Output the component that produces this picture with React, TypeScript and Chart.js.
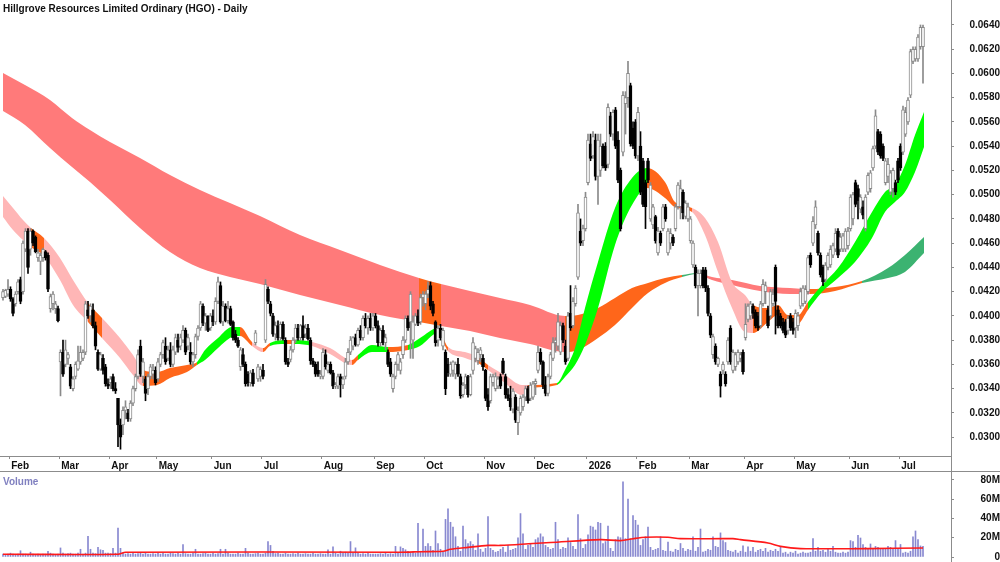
import React, { useEffect, useRef } from 'react';
import { Chart, registerables } from 'chart.js';

Chart.register(...registerables);

// ---------------- data (prices in tenths of a cent, i.e. 0.001 AUD; volume in millions) ----------------
const TITLE = 'Hillgrove Resources Limited Ordinary (HGO) - Daily';

const leadingDays = 3; // trading days of late January 2025 before the first label
const monthLabels = ['Feb', 'Mar', 'Apr', 'May', 'Jun', 'Jul', 'Aug', 'Sep', 'Oct', 'Nov', 'Dec', '2026', 'Feb', 'Mar', 'Apr', 'May', 'Jun', 'Jul'];
const monthDays = [20, 20, 19, 22, 20, 24, 21, 20, 24, 20, 21, 20, 21, 22, 20, 22, 20, 10];

const priceTicks = [30, 32, 34, 36, 38, 40, 42, 44, 46, 48, 50, 52, 54, 56, 58, 60, 62, 64];
const volumeTicks = [0, 20, 40, 60, 80];

// [open, high, low, close]
const priceBars: number[][] = [
  [41.5,42.2,41.3,42.0],[41.6,42.2,41.5,42.1],[41.8,43.0,41.6,42.2],[42.2,42.4,41.2,41.4],[41.4,41.5,40.0,40.2],[41.0,42.0,40.8,41.8],[42.0,43.0,41.8,42.8],[43.0,43.2,41.0,41.2],[42.0,46.2,41.8,46.0],[45.5,47.2,45.3,47.0],
  [47.0,47.2,43.5,44.0],[45.5,47.2,45.0,47.0],[47.0,47.1,45.8,46.0],[46.5,46.6,45.2,45.3],[44.8,45.5,44.5,45.2],[44.5,45.2,43.4,45.0],[44.8,45.6,44.5,45.5],[45.3,45.4,44.6,44.8],[45.0,45.2,42.0,42.2],[40.6,41.8,40.3,41.6],
  [41.0,42.0,40.5,41.8],[40.6,41.2,40.2,41.0],[40.6,40.8,39.5,39.6],[36.2,37.2,33.4,37.0],[37.0,38.0,35.0,35.2],[36.0,38.0,35.8,37.2],[36.5,37.0,36.0,36.8],[35.8,36.0,34.0,34.2],[34.0,35.0,33.8,34.8],[35.0,36.2,34.8,36.0],
  [35.6,37.5,35.5,36.3],[36.2,37.5,36.0,37.0],[36.5,37.2,36.3,37.0],[37.0,41.2,36.8,41.0],[40.5,41.2,39.8,40.0],[40.0,41.0,39.5,40.8],[40.5,41.0,39.0,39.2],[39.2,39.5,37.2,37.5],[37.0,37.2,35.5,35.6],[35.6,37.0,35.5,36.8],
  [36.5,36.8,35.2,35.5],[35.8,36.0,34.2,34.4],[34.4,34.8,34.0,34.2],[34.5,35.0,34.0,34.8],[35.0,35.2,33.8,34.0],[34.0,34.5,33.6,33.8],[33.2,33.2,29.2,31.0],[31.0,31.5,29.0,30.0],[31.0,32.5,30.2,32.2],[32.2,33.0,31.5,32.5],
  [32.0,32.3,31.3,31.5],[31.5,33.0,31.3,32.8],[32.8,34.2,32.6,34.0],[34.0,35.2,33.8,35.0],[35.0,37.2,34.8,36.8],[37.5,38.0,35.0,35.2],[35.0,36.5,34.5,36.2],[34.8,35.0,33.0,33.6],[34.0,35.2,33.5,35.0],[35.0,36.0,34.8,35.8],
  [35.2,36.0,34.8,35.5],[35.5,35.8,34.3,34.5],[34.8,36.5,34.6,36.2],[36.0,37.0,35.8,36.8],[36.8,38.0,36.5,37.8],[37.5,38.2,36.0,36.2],[36.5,37.5,36.3,37.2],[37.2,37.8,35.8,36.0],[36.0,37.5,35.8,37.2],[37.0,38.5,36.8,38.2],
  [38.0,38.5,37.0,37.4],[37.5,38.5,37.2,38.2],[38.0,39.2,37.8,38.8],[38.8,39.0,36.8,37.0],[37.5,38.5,37.2,38.2],[37.0,37.8,36.0,36.2],[36.2,37.0,35.8,36.8],[36.8,38.5,36.5,38.3],[38.3,39.2,38.0,39.0],[39.0,41.2,38.8,41.0],
  [40.8,41.0,39.2,39.4],[39.4,40.2,38.8,40.0],[40.0,40.0,38.7,38.8],[39.0,40.2,38.8,40.0],[40.0,40.5,39.2,39.5],[39.5,41.5,39.3,41.2],[41.2,43.2,41.0,42.8],[42.5,42.8,39.4,39.5],[39.5,41.2,39.2,40.8],[40.8,41.0,39.5,39.6],
  [39.6,41.2,39.4,40.6],[40.6,40.8,39.2,39.3],[39.5,39.6,38.0,38.2],[38.5,38.8,37.8,38.0],[38.0,38.2,37.4,37.5],[35.8,37.4,35.5,37.2],[36.8,37.3,35.8,36.0],[36.0,36.2,34.2,34.4],[35.2,35.4,34.2,34.5],[34.5,35.5,34.2,35.3],
  [35.3,35.6,34.2,34.4],[37.8,38.8,37.6,38.6],[34.8,36.0,34.6,35.8],[35.0,35.8,34.6,35.6],[35.5,36.0,34.8,35.0],[38.0,43.0,37.8,42.6],[42.2,42.4,41.0,41.2],[41.0,41.2,40.0,40.2],[40.0,40.2,38.3,38.5],[38.5,39.5,38.0,39.2],
  [39.2,39.6,38.0,38.2],[38.2,39.5,38.0,39.3],[39.3,39.5,38.0,38.1],[38.0,38.2,36.0,36.2],[36.2,36.5,35.8,36.0],[36.4,37.5,36.2,37.2],[37.2,38.2,37.0,38.0],[38.0,39.3,37.8,39.0],[39.0,39.3,38.0,38.2],[38.2,39.3,38.0,39.2],
  [39.2,40.0,38.0,38.2],[38.5,39.3,38.2,39.0],[39.0,39.3,38.0,38.1],[38.0,38.2,36.0,36.3],[36.3,36.5,35.8,36.0],[36.0,36.2,35.0,35.2],[35.5,36.2,35.0,35.2],[35.0,35.5,34.8,35.2],[35.0,37.3,34.8,37.0],[36.8,37.2,35.6,35.8],
  [35.5,36.2,35.3,36.0],[36.0,36.2,35.2,35.3],[35.3,35.5,34.0,34.2],[34.2,34.5,34.0,34.3],[34.2,35.2,34.0,35.0],[35.0,35.2,33.3,34.3],[34.3,35.0,34.0,34.8],[35.0,36.5,34.8,36.2],[36.2,37.3,36.0,37.0],[37.0,38.3,36.8,38.0],
  [37.5,38.3,37.2,38.2],[38.2,38.5,37.5,37.6],[37.6,39.0,37.5,38.8],[38.8,39.2,38.0,38.2],[38.2,40.0,38.0,39.8],[39.8,40.2,39.0,39.2],[39.0,40.0,38.5,39.8],[39.8,40.2,38.8,39.0],[39.0,40.2,38.8,40.0],[40.0,40.2,39.0,39.2],
  [39.2,39.6,37.5,37.8],[37.8,39.0,37.5,38.8],[38.8,39.2,37.6,37.8],[37.8,38.5,37.2,38.2],[37.0,37.2,35.8,36.0],[36.2,36.5,35.0,35.2],[34.0,35.2,33.7,35.0],[35.0,36.2,34.8,36.0],[36.0,37.0,35.5,36.8],[35.5,36.5,35.2,36.2],
  [36.8,38.3,36.5,38.0],[38.0,40.0,37.8,39.8],[39.8,40.0,38.8,39.0],[39.5,42.0,36.5,41.8],[38.0,40.0,36.5,39.5],[39.3,40.2,39.2,40.0],[40.0,40.5,39.2,39.4],[39.5,41.8,39.3,41.5],[41.5,42.0,40.8,41.8],[41.0,42.0,40.5,41.8],
  [41.8,42.8,41.5,42.2],[42.5,42.8,40.5,40.8],[41.0,41.2,40.0,40.2],[39.5,39.6,37.5,37.8],[38.0,39.2,37.5,39.0],[39.0,39.3,38.0,38.2],[37.5,39.0,37.2,38.8],[37.0,37.2,33.5,34.0],[36.0,36.5,35.0,35.3],[35.2,36.2,35.0,36.0],
  [35.5,36.3,35.0,36.2],[35.2,36.2,34.8,36.0],[36.0,36.5,35.0,35.2],[35.0,35.2,33.2,33.4],[33.5,34.5,33.3,34.3],[34.3,35.2,34.0,35.0],[35.0,35.1,33.3,33.5],[33.5,35.2,33.4,35.0],[35.5,38.2,35.2,37.8],[36.5,37.5,36.2,37.3],
  [36.3,37.3,36.0,37.0],[36.8,37.4,36.2,37.2],[36.5,36.8,35.5,35.8],[35.5,35.6,33.0,33.2],[33.5,34.0,32.2,32.5],[33.0,35.2,32.8,35.0],[34.5,35.2,34.2,35.0],[34.0,35.3,33.8,35.0],[34.2,35.0,34.0,34.8],[35.0,35.2,34.0,34.2],
  [36.3,36.5,35.2,35.3],[35.0,35.2,33.2,33.5],[33.5,34.0,33.0,33.2],[33.2,34.2,32.2,32.5],[32.3,34.0,32.0,33.8],[33.3,33.5,31.2,31.4],[31.2,32.5,30.2,32.2],[32.0,33.4,31.8,33.2],[32.5,33.5,32.2,33.3],[33.3,34.2,33.0,34.0],
  [34.0,34.2,32.8,33.0],[33.2,34.5,33.0,34.3],[33.3,34.6,33.1,34.4],[34.4,34.8,33.5,34.6],[35.5,37.5,35.3,37.0],[37.0,37.3,36.0,36.2],[36.2,36.3,34.0,34.3],[34.3,35.0,33.4,33.6],[33.6,35.2,33.4,35.0],[35.0,37.0,34.8,36.8],
  [36.5,38.2,36.3,37.8],[37.8,38.2,37.0,38.0],[37.5,40.2,37.2,39.5],[37.0,39.5,36.8,39.2],[39.2,39.4,37.8,38.0],[37.5,38.0,36.0,36.2],[36.5,40.3,36.3,40.0],[40.2,42.5,38.8,39.0],[39.2,41.5,39.0,41.2],[41.0,42.5,40.8,42.3],
  [43.2,49.2,43.0,48.5],[47.0,48.0,45.8,46.0],[46.2,47.5,45.8,47.2],[47.2,50.2,47.0,49.8],[51.0,55.0,50.8,54.5],[54.2,55.0,52.8,53.0],[53.2,55.2,53.0,54.8],[54.5,55.0,51.2,51.5],[51.5,55.0,49.2,54.5],[52.0,55.0,51.5,54.0],
  [54.0,54.2,52.2,52.4],[54.0,54.3,52.0,52.2],[52.5,57.5,52.2,57.2],[56.5,56.8,54.8,55.0],[55.0,57.0,54.5,56.8],[57.0,57.2,53.8,54.0],[54.5,55.2,51.0,51.2],[52.0,52.2,47.0,47.2],[53.5,58.5,53.2,58.2],[57.5,58.5,55.0,58.0],
  [58.0,61.0,57.2,60.0],[59.0,59.2,54.0,54.2],[55.5,56.0,53.8,54.0],[56.0,56.2,53.0,53.2],[53.2,57.2,52.8,56.8],[54.0,55.2,50.0,50.2],[52.8,53.0,49.0,49.2],[51.0,51.2,47.2,49.0],[52.8,53.0,51.0,51.2],[48.0,51.0,47.8,50.8],
  [47.5,49.2,47.2,49.0],[48.2,48.3,46.0,46.2],[45.2,47.3,45.0,47.0],[46.8,47.0,45.8,46.0],[47.2,49.2,47.0,49.0],[49.0,49.2,47.8,48.0],[45.2,47.2,45.0,47.0],[46.0,47.2,45.5,46.8],[46.5,46.7,45.8,46.0],[47.2,49.2,47.0,49.0],
  [49.0,51.0,48.8,50.8],[49.0,51.2,48.0,50.5],[50.2,50.4,48.0,48.5],[48.2,49.5,48.0,49.3],[48.0,49.3,47.8,49.0],[46.2,48.2,46.0,48.0],[44.2,46.2,44.0,46.0],[44.0,44.2,42.3,42.5],[42.5,43.8,40.0,43.5],[42.5,43.8,42.3,43.5],
  [43.8,44.0,42.3,42.5],[43.8,44.0,42.0,42.3],[42.3,42.5,40.0,40.2],[40.0,40.2,38.2,38.4],[36.8,38.5,36.5,38.3],[37.5,37.7,36.0,36.2],[36.0,36.6,35.8,36.5],[35.2,35.4,33.3,34.2],[35.5,36.2,35.2,36.0],[35.2,35.4,34.2,34.4],
  [36.2,38.2,36.0,38.0],[39.0,39.2,36.0,36.2],[35.5,37.2,35.3,37.0],[35.8,37.0,35.5,36.8],[36.2,37.2,36.0,37.0],[36.5,37.0,36.2,36.8],[37.0,37.2,35.2,35.4],[38.2,41.0,38.0,39.3],[39.7,41.0,39.5,40.8],[40.0,41.2,39.7,41.0],
  [40.8,41.0,39.8,40.2],[40.3,40.5,39.0,39.2],[40.0,40.3,38.8,39.0],[39.2,41.2,39.0,41.0],[41.0,43.0,40.8,42.6],[42.0,42.8,41.0,42.5],[40.5,40.8,39.0,39.2],[40.0,42.2,39.8,42.0],[41.0,42.2,40.8,41.8],[44.0,44.2,38.5,41.2],
  [40.5,40.8,39.0,39.2],[40.0,40.2,39.0,39.2],[39.5,39.8,38.6,38.8],[39.5,39.7,38.2,38.4],[38.8,40.0,38.5,39.8],[40.0,40.2,38.8,39.0],[39.5,39.8,38.5,38.8],[39.0,40.5,38.2,40.2],[39.2,40.3,38.8,40.0],[40.8,42.3,40.6,42.0],
  [41.0,42.5,40.8,42.3],[41.2,42.5,41.0,42.2],[42.0,45.0,41.8,44.8],[45.0,45.2,44.0,44.2],[46.0,48.2,45.8,47.8],[47.5,49.5,47.2,49.0],[46.8,47.0,45.0,45.2],[45.0,45.2,43.2,43.4],[44.0,44.2,42.5,42.8],[43.0,44.4,42.8,44.2],
  [44.0,45.2,43.8,45.0],[44.2,45.8,44.0,45.5],[45.0,46.0,44.8,45.8],[45.5,47.2,45.3,46.8],[47.0,47.2,44.8,45.0],[45.5,46.8,45.3,46.5],[45.5,46.8,45.3,46.6],[45.5,47.2,45.3,47.0],[45.8,47.3,45.5,47.0],[47.2,50.0,47.0,49.8],
  [48.0,50.2,47.5,50.0],[51.0,51.2,49.0,49.2],[50.5,50.8,48.0,49.5],[48.8,50.0,48.5,49.8],[49.0,49.5,48.0,48.3],[47.2,50.0,47.0,49.8],[50.2,51.8,50.0,51.6],[50.5,52.0,50.2,51.8],[52.2,54.0,52.0,53.8],[54.0,57.0,53.8,56.5],
  [55.2,55.4,53.3,53.5],[55.0,55.2,53.0,53.2],[54.0,54.2,52.8,53.0],[51.0,53.0,50.8,52.8],[51.5,53.0,51.0,52.5],[50.2,52.0,50.0,51.8],[50.5,52.2,49.8,52.0],[51.0,51.2,50.0,50.2],[52.8,53.0,51.0,51.2],[54.0,54.2,52.0,52.2],
  [53.5,57.3,53.3,57.0],[55.0,57.2,54.8,56.8],[56.0,58.0,55.8,57.8],[58.2,62.0,58.0,61.8],[61.0,62.2,60.8,62.0],[61.2,62.2,61.0,62.0],[61.2,63.2,61.0,63.0],[62.2,64.0,62.0,63.8],[62.2,64.0,59.2,63.8],
];

// daily volume, millions of shares
const volumes = [
  3,2.5,3,4,3,2.5,3,6.5,3,3,
  2.5,5,3,2.5,3,2,3,3,6,4,
  3,2.5,3,9.4,4,3,3.5,4,3,3,
  4,8,3,4,21.5,8,4,3.5,10,7.5,
  7,4,4,3.5,9,4,30,9,4,3,
  3.5,3,4,3,3.5,4,3,4,3,3,
  3.5,3,4,3,4,3,3,4,3.5,3,
  4,3,13,3.5,3,3,4,8,3,3,
  3.5,4,3,3,4,3,3.5,8,3,8,
  4,3,3,3,4,3,3,9,4,3,
  3,3.5,4,3,3,4,16,12,6,3.5,
  4,3,3,4,3,3,3.5,3,4,3,
  3,3.5,3,3,4,3,3,3.5,3,3,
  7.5,3,10.5,4,3,6,4,5,4,16,
  4,9.5,4,3,3.5,3,4,3,3,3,
  3,3.5,3,4,3,3.5,3,11,4,10.5,
  9,7.5,6,4,5,4,35,6,29,11,
  14,11,7,27,14,8,5,39,50,36,
  31,21,11,6,32,18,14,16,13,7,
  24,8,5,9,42,9,7,5,6,8,
  10,5,12,7,8,9,20,45,24,8,
  12,14,10,18,20,24,21,12,10,8,
  9,36,18,8,10,9,20,15,11,8,
  44,19,9,13,23,32,31,28,36,35,
  14,16,32,9,6,18,21,20,78,19,
  60,19,43,38,33,12,18,21,31,10,
  7,8,9,21,7,6,15.5,6,5,8,
  7,14,9,6,8,7,21,6,10,29,
  5,6,8,7,21,11,10,25,17,15,
  7,6,5,7,4,6,11.5,5,10.5,6,
  10,5,7,8,6,9,5,7,6,8,
  6,11,4,5,3,5,4,6,3,4,
  5,4,4,5,19,6,10,6,7,5,
  8,6,11,5,4,4,5,4,5,17,
  16,10,22.5,19.7,13,10,8,13.5,9,11,
  10,8,9,8,11,10,8,17,8,13,
  4,5,4,6,21,27,18,11.5,11,
];

// volume moving average (read at bar positions)
const volMaX = [0, 46, 49, 159, 167, 176, 179, 186, 194, 199, 212, 219, 239, 247, 252, 257, 266, 271, 292, 295, 306, 311, 319, 332, 346, 368];
const volMa = [2.8, 2.8, 5, 5, 5.5, 6, 8, 10, 12, 12, 14, 15, 18, 17, 19, 20.5, 20.5, 19, 19, 18, 14.5, 11, 8.7, 8.6, 8.7, 9.4];

// long-term moving-average ribbon: two edges and the trend state of each stretch
const longX = [0, 8.8, 18.8, 27.6, 34.8, 42.8, 54.8, 66.8, 78.8, 90.8, 102.8, 118.8, 134.8, 150.8, 166.4, 175.2, 186.8, 198.8, 210.8, 224.8, 230, 238, 244.8, 251.6, 258, 264.8, 271.6, 277.6, 283.6, 291.6, 302.8, 314.8, 322.8, 332.8, 343.6, 354, 360.8, 368.4];
const longEdgeA = [60.04, 59.05, 57.81, 56.33, 55.34, 54.35, 53.03, 51.62, 50.39, 49.31, 48.24, 46.67, 45.44, 44.2, 43.13, 42.63, 42.05, 41.48, 40.9, 40.0, 40.08, 40.65, 41.48, 42.3, 42.72, 43.13, 43.37, 43.54, 43.21, 42.96, 42.47, 42.3, 42.22, 42.39, 42.88, 43.95, 45.03, 46.51];
const longEdgeB = [56.9, 55.75, 53.85, 52.28, 51.05, 49.56, 47.25, 45.27, 43.95, 43.21, 42.63, 41.72, 40.9, 40.07, 39.5, 39.17, 38.75, 38.18, 37.68, 37.02, 37.19, 38.18, 39.25, 40.65, 41.89, 42.72, 43.21, 43.46, 42.96, 42.55, 42.06, 41.81, 41.81, 42.06, 42.72, 43.13, 43.63, 45.19];
const longState = [
  'bear','bear','bear','bear','bear','bear','bear','bear','bear','bear','bear','bear','bear','bear',
  'mix','bear','bear','bear','bear',
  'mix','mix','mix','mix','mix','mix','mix',
  'bull','bear','bear','bear','bear','bear','mix','mix','bull','bull','bull','bull',
];

// short-term moving-average ribbon
const shortX = [0, 4, 8, 11.2, 16.4, 22.8, 28, 34, 39.6, 46.8, 52, 56, 61.6, 66.8, 73.6, 77.6, 80.8, 86, 91.6, 94.8, 99.6, 104, 106.8, 112.8, 116.8, 123.6, 130.8, 139.6, 142, 147.6, 154, 162, 166.8, 174, 178, 184.8, 190, 194, 200.8, 207.6, 210, 221.6, 224.8, 228.8, 232.8, 238, 244.8, 251.6, 257.6, 264.8, 268.8, 275.6, 280.8, 286, 291.6, 296.8, 300, 306, 310, 314, 318, 322, 327.6, 334, 340.8, 347.6, 352.8, 356.8, 360.8, 364.8, 368.4];
const shortEdgeA = [49.89, 48.9, 47.91, 47.25, 46.43, 44.78, 42.96, 41.06, 39.83, 38.18, 36.77, 35.54, 35.37, 35.7, 35.95, 36.2, 37.19, 38.18, 39.09, 39.09, 37.85, 37.35, 37.77, 38.01, 38.01, 37.85, 37.35, 36.36, 36.77, 37.6, 37.44, 37.6, 38.18, 39.0, 37.44, 37.02, 36.61, 35.95, 35.12, 34.3, 34.3, 34.46, 35.54, 37.35, 40.65, 44.45, 48.9, 51.38, 52.2, 51.05, 49.4, 48.9, 48.08, 46.1, 42.8, 41.72, 40.9, 40.65, 40.9, 40.07, 40.07, 41.15, 42.55, 43.95, 46.1, 48.57, 50.22, 50.8, 52.45, 54.93, 56.82];
const shortEdgeB = [48.16, 47.09, 46.26, 45.68, 44.94, 42.96, 40.9, 39.5, 38.18, 36.53, 35.12, 34.22, 34.3, 34.88, 35.37, 35.95, 36.36, 37.35, 38.26, 38.34, 37.52, 37.02, 37.52, 37.68, 37.68, 37.52, 36.86, 35.95, 36.36, 37.02, 37.02, 37.19, 37.52, 38.59, 37.1, 36.53, 36.11, 35.54, 34.46, 33.47, 33.97, 34.3, 34.96, 35.95, 37.6, 40.65, 45.85, 49.15, 50.55, 49.73, 48.98, 48.57, 46.68, 43.62, 40.65, 38.67, 38.59, 39.5, 40.07, 39.0, 39.25, 40.49, 41.97, 43.13, 44.45, 46.43, 48.57, 49.4, 50.22, 51.87, 53.94];
const shortState = [
  'bear','bear','bear','mix','bear','bear','bear','mix','bear','bear',
  'bear','mix','mix','mix','mix','bull','bull','bull','bull','mix',
  'bear','mix','bull','mix','bull','bear','bear','mix','bull','bull',
  'mix','bull','bull','mix','bear','bear','mix','bear','bear','bear',
  'mix','bull','bull','bull','bull','bull','bull','bull','mix','mix',
  'mix','bear','bear','bear','bear','bear','mix','mix','mix','mix',
  'mix','bull','bull','bull','bull','bull','bull','bull','bull','bull','bull',
];

// ---------------- styles ----------------
const FONT = '"Liberation Sans", Arial, sans-serif';
const FONT_SIZE = 10;
const TEXT = '#111111';
const AXIS = '#8c8c8c';
const LONG_COLORS: Record<string, string> = { bear: 'rgb(255,122,122)', mix: 'rgb(255,102,26)', bull: 'rgb(60,179,113)' };
const SHORT_COLORS: Record<string, string> = { bear: 'rgb(255,182,182)', mix: 'rgb(255,102,26)', bull: 'rgb(0,255,0)' };
const X_MIN = -1.2;
const X_MAX = 379.2;
const PLOT_RIGHT = 951.5;

const monthStarts: number[] = [];
{
  let acc = leadingDays;
  monthDays.forEach((d) => { monthStarts.push(acc); acc += d; });
}

const pts = (xs: number[], ys: number[]) => xs.map((x, k) => ({ x, y: ys[k] }));
const isUp = (b: number[]) => b[3] >= b[0];

export default function App() {
  const priceRef = useRef<HTMLCanvasElement>(null);
  const volRef = useRef<HTMLCanvasElement>(null);

  useEffect(() => {
    const font = { family: FONT, size: FONT_SIZE, weight: 'bold' as const };

    const bandLine = (xs: number[], ys: number[], order: number) => ({
      type: 'line' as const,
      data: pts(xs, ys),
      borderColor: 'rgba(0,0,0,0)',
      borderWidth: 0,
      pointRadius: 0,
      cubicInterpolationMode: 'monotone' as const,
      fill: false,
      order,
    });
    const bandFill = (xs: number[], ys: number[], order: number, states: string[], colors: Record<string, string>) => ({
      ...bandLine(xs, ys, order),
      fill: '-1',
      backgroundColor: colors[states[0]],
      segment: { backgroundColor: (ctx: any) => colors[states[ctx.p0DataIndex]] },
    });

    const priceDecor = {
      id: 'priceDecor',
      afterDraw(chart: any) {
        const ctx = chart.ctx;
        ctx.save();
        ctx.fillStyle = TEXT;
        ctx.font = `bold ${FONT_SIZE}px ${FONT}`;
        ctx.textBaseline = 'alphabetic';
        ctx.textAlign = 'left';
        ctx.fillText(TITLE, 3, 12);
        ctx.strokeStyle = AXIS;
        ctx.lineWidth = 1;
        ctx.beginPath();
        ctx.moveTo(0, 471.5);
        ctx.lineTo(1000, 471.5);
        ctx.moveTo(PLOT_RIGHT, chart.chartArea.bottom);
        ctx.lineTo(PLOT_RIGHT, 473);
        ctx.stroke();
        ctx.restore();
      },
    };

    const priceChart = new Chart(priceRef.current!, {
      type: 'bar',
      data: {
        datasets: [
          bandLine(longX, longEdgeA, 6) as any,
          bandFill(longX, longEdgeB, 6, longState, LONG_COLORS) as any,
          bandLine(shortX, shortEdgeA, 5) as any,
          bandFill(shortX, shortEdgeB, 5, shortState, SHORT_COLORS) as any,
          {
            type: 'bar',
            data: priceBars.map((b, i) => ({ x: i, y: [b[2], b[1]] })) as any,
            backgroundColor: priceBars.map((b) => (isUp(b) ? '#8a8a8a' : '#000000')),
            barThickness: 1,
            grouped: false,
            order: 2,
          },
          {
            type: 'bar',
            data: priceBars.map((b, i) => ({ x: i, y: [Math.min(b[0], b[3]), Math.max(b[0], b[3])] })) as any,
            backgroundColor: priceBars.map((b) => (isUp(b) ? '#ffffff' : '#000000')),
            borderColor: priceBars.map((b) => (isUp(b) ? '#8a8a8a' : '#000000')),
            borderWidth: 1,
            borderSkipped: false,
            barThickness: 3,
            grouped: false,
            order: 1,
          },
        ],
      },
      options: {
        responsive: false,
        animation: false,
        devicePixelRatio: 1,
        events: [],
        layout: { padding: 0 },
        plugins: { legend: { display: false }, tooltip: { enabled: false }, title: { display: false } },
        scales: {
          x: {
            type: 'linear',
            min: X_MIN,
            max: X_MAX,
            offset: false,
            position: 'bottom',
            afterBuildTicks: (s: any) => { s.ticks = monthStarts.map((m) => ({ value: m - 0.5 })); },
            afterFit: (s: any) => { s.height = 17; s.paddingLeft = 0; s.paddingRight = 0; },
            grid: { display: true, drawOnChartArea: false, drawTicks: true, tickLength: 3, color: AXIS, offset: false },
            border: { display: true, color: AXIS },
            ticks: {
              autoSkip: false,
              maxRotation: 0,
              minRotation: 0,
              align: 'start',
              labelOffset: 2,
              padding: 1,
              color: TEXT,
              font,
              callback: (v: any) => {
                const k = monthStarts.indexOf(Math.round(Number(v) + 0.5));
                return k >= 0 ? monthLabels[k] : '';
              },
            },
          },
          y: {
            type: 'linear',
            position: 'right',
            min: 28.44,
            max: 66.06,
            afterBuildTicks: (s: any) => { s.ticks = priceTicks.map((v) => ({ value: v })); },
            afterFit: (s: any) => { s.width = 49; s.paddingTop = 0; s.paddingBottom = 0; },
            grid: { drawOnChartArea: false, drawTicks: true, tickLength: 3, color: AXIS },
            border: { display: true, color: AXIS },
            ticks: {
              crossAlign: 'far',
              padding: 13,
              color: TEXT,
              font,
              callback: (v: any) => (Number(v) / 1000).toFixed(4),
            },
          },
        },
      } as any,
      plugins: [priceDecor],
    });

    const volDecor = {
      id: 'volDecor',
      afterDraw(chart: any) {
        const ctx = chart.ctx;
        ctx.save();
        ctx.fillStyle = 'rgb(128,128,192)';
        ctx.font = `bold ${FONT_SIZE}px ${FONT}`;
        ctx.textBaseline = 'alphabetic';
        ctx.textAlign = 'left';
        ctx.fillText('Volume', 3, 12);
        ctx.strokeStyle = AXIS;
        ctx.lineWidth = 1;
        ctx.beginPath();
        ctx.moveTo(PLOT_RIGHT, 0);
        ctx.lineTo(PLOT_RIGHT, 89);
        ctx.stroke();
        ctx.restore();
      },
    };

    const volChart = new Chart(volRef.current!, {
      type: 'bar',
      data: {
        datasets: [
          {
            type: 'line',
            data: pts(volMaX, volMa) as any,
            borderColor: '#ff1a1a',
            borderWidth: 1.6,
            pointRadius: 0,
            tension: 0.3,
            order: 0,
          },
          {
            type: 'bar',
            data: volumes.map((v, i) => ({ x: i, y: v })) as any,
            backgroundColor: 'rgb(136,136,208)',
            barThickness: 1,
            grouped: false,
            order: 1,
          },
        ],
      },
      options: {
        responsive: false,
        animation: false,
        devicePixelRatio: 1,
        events: [],
        layout: { padding: { top: 2, bottom: 5, left: 0, right: 0 } },
        plugins: { legend: { display: false }, tooltip: { enabled: false } },
        scales: {
          x: { type: 'linear', min: X_MIN, max: X_MAX, offset: false, display: false },
          y: {
            type: 'linear',
            position: 'right',
            min: 0,
            max: 85,
            afterBuildTicks: (s: any) => { s.ticks = volumeTicks.map((v) => ({ value: v })); },
            afterFit: (s: any) => { s.width = 49; s.paddingTop = 0; s.paddingBottom = 0; },
            grid: { drawOnChartArea: false, drawTicks: true, tickLength: 3, color: AXIS },
            border: { display: true, color: AXIS },
            ticks: {
              crossAlign: 'far',
              padding: 24,
              color: TEXT,
              font,
              callback: (v: any) => (Number(v) === 0 ? '0' : `${v}M`),
            },
          },
        },
      } as any,
      plugins: [volDecor],
    });

    return () => {
      priceChart.destroy();
      volChart.destroy();
    };
  }, []);

  return (
    <div style={{ position: 'absolute', left: 0, top: 0, width: 1000, height: 562, background: '#ffffff' }}>
      <canvas ref={priceRef} width={1000} height={473} style={{ display: 'block', width: 1000, height: 473 }} />
      <canvas ref={volRef} width={1000} height={89} style={{ display: 'block', width: 1000, height: 89 }} />
    </div>
  );
}
